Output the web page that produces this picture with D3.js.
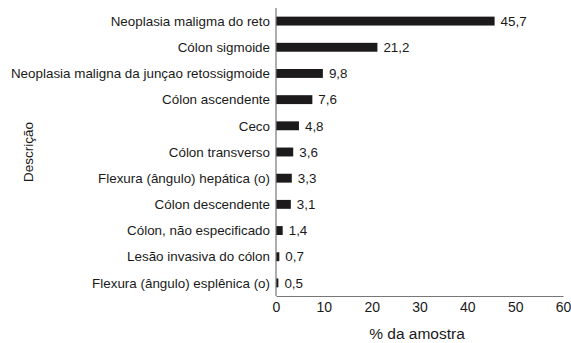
<!DOCTYPE html>
<html>
<head>
<meta charset="utf-8">
<script src="https://cdn.jsdelivr.net/npm/d3@7"></script>
<style>
  html, body { margin: 0; padding: 0; background: #fff; }
  text { font-family: "Liberation Sans", Arial, Helvetica, sans-serif; fill: #1a1a1a; }
</style>
</head>
<body>
<svg id="chart" width="571" height="343"></svg>
<script>
// Localização dos tumores colorretais (% da amostra)
const categories = [
  "Neoplasia maligma do reto",
  "Cólon sigmoide",
  "Neoplasia maligna da junçao retossigmoide",
  "Cólon ascendente",
  "Ceco",
  "Cólon transverso",
  "Flexura (ângulo) hepática (o)",
  "Cólon descendente",
  "Cólon, não especificado",
  "Lesão invasiva do cólon",
  "Flexura (ângulo) esplênica (o)"
];
const values = [45.7, 21.2, 9.8, 7.6, 4.8, 3.6, 3.3, 3.1, 1.4, 0.7, 0.5];
const xTicks = [0, 10, 20, 30, 40, 50, 60];
const xTitle = "% da amostra";
const yTitle = "Descrição";

const svg = d3.select("#chart");
const plotLeft = 276, plotRight = 563, plotTop = 8, plotBottom = 296;
const fmt = v => String(v).replace(".", ",");

const x = d3.scaleLinear().domain([0, 60]).range([plotLeft, plotRight]);
const y = d3.scaleBand().domain(categories).range([plotTop, plotBottom])
  .paddingInner(0.66).paddingOuter(0.33);

// bars
svg.append("g").selectAll("rect")
  .data(categories)
  .join("rect")
  .attr("x", x(0))
  .attr("y", d => y(d))
  .attr("width", (d, i) => x(values[i]) - x(0))
  .attr("height", y.bandwidth())
  .attr("fill", "#1c1a1b");

// value labels
svg.append("g").selectAll("text")
  .data(categories)
  .join("text")
  .attr("x", (d, i) => x(values[i]) + 6)
  .attr("y", d => y(d) + y.bandwidth() / 2)
  .attr("dy", "0.35em")
  .attr("font-size", 13.4)
  .text((d, i) => fmt(values[i]));

// category labels
svg.append("g").selectAll("text")
  .data(categories)
  .join("text")
  .attr("x", plotLeft - 6)
  .attr("y", d => y(d) + y.bandwidth() / 2)
  .attr("dy", "0.35em")
  .attr("text-anchor", "end")
  .attr("font-size", 13.4)
  .text(d => d);

// x axis
const xAxis = svg.append("g")
  .attr("transform", `translate(0,${plotBottom})`)
  .call(d3.axisBottom(x).tickValues(xTicks).tickSize(0).tickPadding(6).tickFormat(d3.format("d")));
xAxis.select(".domain").attr("stroke", "#777").attr("stroke-width", 1.2);
xAxis.selectAll("text").attr("font-size", 14).attr("fill", "#1a1a1a")
  .style("font-family", "'Liberation Sans', Arial, sans-serif");

// y axis line
svg.append("line")
  .attr("x1", plotLeft).attr("x2", plotLeft)
  .attr("y1", plotTop).attr("y2", plotBottom)
  .attr("stroke", "#777").attr("stroke-width", 1.2);

// titles
svg.append("text")
  .attr("x", 417)
  .attr("y", 334)
  .attr("dy", "0.35em")
  .attr("text-anchor", "middle")
  .attr("font-size", 15.5)
  .text(xTitle);

svg.append("text")
  .attr("transform", "translate(28,152) rotate(-90)")
  .attr("dy", "0.35em")
  .attr("text-anchor", "middle")
  .attr("font-size", 13.5)
  .text(yTitle);
</script>
</body>
</html>
